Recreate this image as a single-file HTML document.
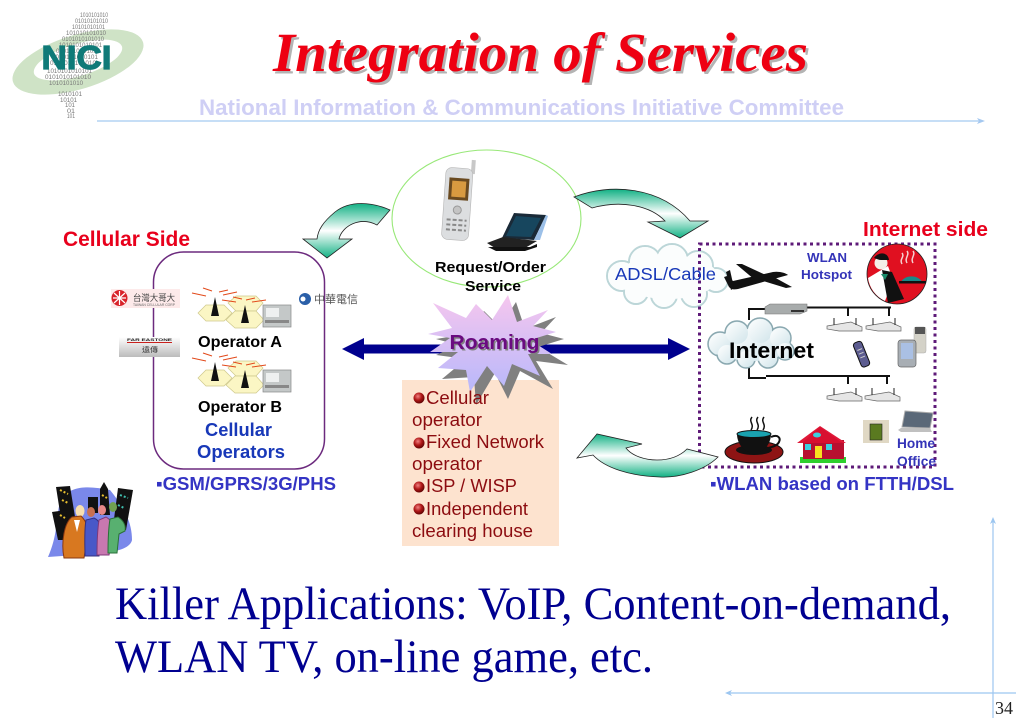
<!DOCTYPE html>
<html><head><meta charset="utf-8"><title>Integration of Services</title>
<style>html,body{margin:0;padding:0;background:#fff}svg{display:block}
.s{font-family:"Liberation Sans","Noto Sans CJK TC",sans-serif}
.b{font-family:"Liberation Sans",sans-serif;font-weight:bold}
.t{font-family:"Liberation Serif",serif}
</style></head><body>
<svg width="1024" height="726" viewBox="0 0 1024 726" xmlns="http://www.w3.org/2000/svg">
<defs>
<linearGradient id="ga" x1="0" y1="0" x2="0" y2="1"><stop offset="0" stop-color="#12b184"/><stop offset=".5" stop-color="#fff"/><stop offset="1" stop-color="#12b184"/></linearGradient>
<linearGradient id="gs" x1="0" y1="0" x2="0" y2="1"><stop offset="0" stop-color="#f6c6ee"/><stop offset="1" stop-color="#b8b8fb"/></linearGradient>
<linearGradient id="gc" x1="0" y1="0" x2="1" y2="1"><stop offset="0" stop-color="#fff"/><stop offset="1" stop-color="#d0e4ea"/></linearGradient>
<radialGradient id="gb" cx=".4" cy=".35" r=".7"><stop offset="0" stop-color="#f08080"/><stop offset=".5" stop-color="#b01818"/><stop offset="1" stop-color="#500"/></radialGradient>
<linearGradient id="gf" x1="0" y1="0" x2="0" y2="1"><stop offset="0" stop-color="#fff"/><stop offset="1" stop-color="#bbb"/></linearGradient>
<g id="cell">
 <polygon points="198,313 206,305 224,305 232,313 224,321 206,321" fill="#fbf6c4" stroke="#cfc98c" stroke-width=".7"/>
 <polygon points="228,303 236,296 256,296 263,303 256,311 236,311" fill="#fbf6c4" stroke="#cfc98c" stroke-width=".7"/>
 <polygon points="226,320 235,311 256,311 264,320 256,328 235,328" fill="#fbf6c4" stroke="#cfc98c" stroke-width=".7"/>
 <polygon points="215,297 211,316 219,316" fill="#111"/>
 <polygon points="245,305 241,323 249,323" fill="#111"/>
 <path d="M192,293l14,3M203,288l9,3M237,292l-14,3M228,290l-9,2M222,300l14,2M233,297l9,2M266,300l-14,2M255,298l-9,2" stroke="#e2491a" stroke-width="1"/>
 <rect x="263" y="305" width="28" height="22" fill="#c4c8c8" stroke="#888" stroke-width=".7"/>
 <rect x="266" y="308" width="13" height="9" fill="#eef0f0"/>
 <rect x="265" y="320" width="24" height="3" fill="#888"/>
</g>
<g id="ap">
 <polygon points="0,9 24,5 35,10 35,14 12,14 0,12" fill="#e6e6e6" stroke="#666" stroke-width=".7"/>
 <path d="M7,8V1M29,8V1" stroke="#222" stroke-width="1"/>
</g>
</defs>
<rect width="1024" height="726" fill="#fff"/>

<!-- logo -->
<g>
 <ellipse cx="78" cy="62" rx="68" ry="27" transform="rotate(-17 78 62)" fill="#cfe3c6"/>
 <ellipse cx="78" cy="60" rx="46" ry="16" transform="rotate(-17 78 60)" fill="#fff"/>
 <g class="s" font-size="6.500" fill="#777">
 <text x="80" y="17" textLength="28" lengthAdjust="spacingAndGlyphs">1010101010</text>
 <text x="75" y="23" textLength="33" lengthAdjust="spacingAndGlyphs">01010101010</text>
 <text x="72" y="29" textLength="33" lengthAdjust="spacingAndGlyphs">10101010101</text>
 <text x="66" y="35" textLength="40" lengthAdjust="spacingAndGlyphs">101010101010</text>
 <text x="62" y="41" textLength="42" lengthAdjust="spacingAndGlyphs">0101010101010</text>
 <text x="59" y="47" textLength="43" lengthAdjust="spacingAndGlyphs">1010101010101</text>
 <text x="56" y="53" textLength="44" lengthAdjust="spacingAndGlyphs">0101010101010</text>
 <text x="52" y="59" textLength="46" lengthAdjust="spacingAndGlyphs">1010101010101</text>
 <text x="50" y="65" textLength="46" lengthAdjust="spacingAndGlyphs">0101010101010</text>
 <text x="47" y="73" textLength="45" lengthAdjust="spacingAndGlyphs">1010101010101</text>
 <text x="45" y="79" textLength="46" lengthAdjust="spacingAndGlyphs">0101010101010</text>
 <text x="49" y="85" textLength="34" lengthAdjust="spacingAndGlyphs">1010101010</text>
 <text x="58" y="96" textLength="24" lengthAdjust="spacingAndGlyphs">1010101</text>
 <text x="60" y="102" textLength="17" lengthAdjust="spacingAndGlyphs">10101</text>
 <text x="65" y="107" textLength="10" lengthAdjust="spacingAndGlyphs">101</text>
 <text x="67" y="113" textLength="8" lengthAdjust="spacingAndGlyphs">01</text>
 <text x="67" y="118" textLength="8" lengthAdjust="spacingAndGlyphs">101</text>
 </g>
 <text x="41.500" y="69" class="b" font-size="33" fill="#0f7a78" textLength="70" lengthAdjust="spacingAndGlyphs" stroke="#0f7a78" stroke-width="1.200">NICI</text>
</g>

<!-- title -->
<g class="t" font-size="55" font-weight="bold" font-style="italic">
 <text x="275.500" y="73.500" fill="#b4b4b4" textLength="535" lengthAdjust="spacingAndGlyphs">Integration of Services</text>
 <text x="273" y="71" fill="#ee0012" textLength="535" lengthAdjust="spacingAndGlyphs">Integration of Services</text>
</g>
<text x="199" y="115" class="b" font-size="22" fill="#cfcff5" textLength="645" lengthAdjust="spacingAndGlyphs">National Information &amp; Communications Initiative Committee</text>

<!-- guides -->
<path d="M97 121H980" stroke="#b4d3f4" stroke-width="1.500"/>
<polygon points="985,121 977,118 979,121 977,124" fill="#a4c8f0"/>
<path d="M993 520V718" stroke="#9cc6f0" stroke-width="1.200"/>
<polygon points="993,517 990,524 993,522 996,524" fill="#9cc6f0"/>
<path d="M729 693H1016" stroke="#9cc6f0" stroke-width="1.200"/>
<polygon points="725,693 732,690 730,693 732,696" fill="#9cc6f0"/>
<text x="995" y="714" class="t" font-size="18" fill="#222">34</text>

<!-- cellular panel -->
<rect x="153.500" y="252" width="171" height="217" rx="30" fill="#fff" stroke="#6c2a7e" stroke-width="1.500"/>
<text x="63" y="246" class="b" font-size="21" fill="#e8001c" textLength="127" lengthAdjust="spacingAndGlyphs">Cellular Side</text>

<!-- TWN logo -->
<rect x="111" y="289" width="69" height="19" fill="#fdeaea"/>
<circle cx="119.500" cy="298" r="8" fill="#d8232a"/>
<path d="M119.500 291v14M113 298h13M114 293l11 10M125 293l-11 10" stroke="#fff" stroke-width="1.200"/>
<text x="133" y="301" class="s" font-size="9" fill="#444" textLength="42" lengthAdjust="spacingAndGlyphs">台灣大哥大</text>
<text x="133" y="306" class="s" font-size="3.500" fill="#666" textLength="42" lengthAdjust="spacingAndGlyphs">TAIWAN CELLULAR CORP</text>
<!-- FET -->
<rect x="119" y="337" width="61" height="20" fill="url(#gf)"/>
<text x="127" y="341" class="b" font-size="4" fill="#222" textLength="45" lengthAdjust="spacingAndGlyphs">FAR EASTONE</text>
<path d="M127 342.500H172" stroke="#c8201c" stroke-width="1"/>
<text x="142" y="352" class="s" font-size="7" fill="#333" textLength="16" lengthAdjust="spacingAndGlyphs">遠傳</text>
<!-- CHT -->
<circle cx="305" cy="299" r="6" fill="#2a5fa8"/><circle cx="303" cy="299" r="2.500" fill="#fff"/>
<text x="314" y="303" class="s" font-size="11" fill="#555" textLength="44" lengthAdjust="spacingAndGlyphs">中華電信</text>

<use href="#cell"/>
<text x="198" y="347" class="b" font-size="15.500" fill="#000" textLength="84" lengthAdjust="spacingAndGlyphs">Operator A</text>
<use href="#cell" y="65"/>
<text x="198" y="412" class="b" font-size="15.500" fill="#000" textLength="84" lengthAdjust="spacingAndGlyphs">Operator B</text>
<text x="205" y="436" class="b" font-size="18" fill="#1838b8" textLength="67" lengthAdjust="spacingAndGlyphs">Cellular</text>
<text x="197" y="458" class="b" font-size="18" fill="#1838b8" textLength="88" lengthAdjust="spacingAndGlyphs">Operators</text>
<text x="156" y="490" class="b" font-size="18.500" fill="#3434c4" textLength="180" lengthAdjust="spacingAndGlyphs">▪GSM/GPRS/3G/PHS</text>

<!-- ellipse -->
<ellipse cx="486.500" cy="218.500" rx="94.500" ry="68.500" fill="#fff" stroke="#98e878" stroke-width="1.100"/>
<!-- phone -->
<g transform="rotate(4 457 200)">
 <rect x="469" y="159" width="4" height="14" fill="#c8c8c8"/>
 <rect x="444" y="168" width="27" height="72" rx="6" fill="#dcdee0" stroke="#b4b4b4" stroke-width=".6"/>
 <rect x="448" y="178" width="20" height="22" fill="#6a4a20"/>
 <rect x="451" y="181" width="14" height="16" fill="#d89a40"/>
 <circle cx="458" cy="210" r="4" fill="#c4c4c4" stroke="#999"/>
 <path d="M448 220h20M448 225h20M448 230h20" stroke="#888" stroke-width="2" stroke-dasharray="4 2"/>
</g>
<!-- laptop -->
<polygon points="502,238 514,213 546,215 534,240" fill="#1a2a38"/>
<polygon points="506,236 516,216 541,218 531,237" fill="#17465e"/>
<polygon points="546,215 534,240 540,240 548,216" fill="#9cc0e8"/>
<polygon points="487,243 503,237 537,241 525,248 495,248" fill="#222"/>
<polygon points="488,247 530,247 537,244 537,247 525,251 496,251" fill="#111"/>
<text x="435" y="272" class="b" font-size="15" fill="#000" textLength="111" lengthAdjust="spacingAndGlyphs">Request/Order</text>
<text x="465" y="291" class="b" font-size="15" fill="#000" textLength="56" lengthAdjust="spacingAndGlyphs">Service</text>

<!-- curved arrows -->
<path d="M390 210C372 202 350 200 335 212C323 222 318 230 317 239H303L327 258L352 239H339C342 226 360 216 377 225Z" fill="url(#ga)" stroke="#222" stroke-width=".8"/>
<path d="M574 197C610 183 660 186 690 221H708L680 238L648 222L665 221C650 205 620 200 592 208Z" fill="url(#ga)" stroke="#222" stroke-width=".8"/>

<!-- ADSL cloud -->
<g>
 <g fill="#fff" stroke="#bcd6d8" stroke-width="2">
 <circle cx="622" cy="276" r="15"/><circle cx="645" cy="262" r="16"/><circle cx="672" cy="260" r="16"/><circle cx="698" cy="266" r="15"/>
 <circle cx="716" cy="280" r="12"/><circle cx="694" cy="294" r="13"/><circle cx="664" cy="295" r="13"/><circle cx="636" cy="292" r="12"/>
 </g>
 <g fill="#fbfdfd"><ellipse cx="668" cy="277" rx="50" ry="22"/><circle cx="622" cy="276" r="14"/><circle cx="645" cy="262" r="15"/><circle cx="672" cy="260" r="15"/><circle cx="698" cy="266" r="14"/>
 <circle cx="716" cy="280" r="11"/><circle cx="694" cy="294" r="12"/><circle cx="664" cy="295" r="12"/><circle cx="636" cy="292" r="11"/></g>
</g>

<!-- dotted box -->
<rect x="699.500" y="244" width="235.500" height="223" fill="none" stroke="#5e1a78" stroke-width="3" stroke-dasharray="3 3.500"/>
<text x="863" y="236" class="b" font-size="20.500" fill="#e8001c" textLength="125" lengthAdjust="spacingAndGlyphs">Internet side</text>
<text x="615" y="280" class="s" font-size="17.500" fill="#1838b8" textLength="101" lengthAdjust="spacingAndGlyphs">ADSL/Cable</text>

<!-- plane -->
<g fill="#111">
 <path d="M724 277l3-1 6 5 40-9c6-1 13 1 15 3l-50 14c-5 1-7 0-9-2z"/>
 <polygon points="736,264 742,264 768,276 755,280"/>
 <polygon points="760,280 772,276 792,287 786,288"/>
 <polygon points="726,272 730,270 734,288 731,290"/>
</g>
<text x="807" y="262" class="b" font-size="13" fill="#3434b8" textLength="40" lengthAdjust="spacingAndGlyphs">WLAN</text>
<text x="801" y="279" class="b" font-size="13" fill="#3434b8" textLength="51" lengthAdjust="spacingAndGlyphs">Hotspot</text>

<!-- waiter -->
<circle cx="897" cy="274" r="30" fill="#e01020" stroke="#222" stroke-width=".8"/>
<path d="M868 278A30 30 0 0 0 885 301L893 280L888 266Z" fill="#fff"/>
<circle cx="881" cy="263" r="6.500" fill="#f4f0e8"/>
<path d="M874 258c5-7 14-6 15 2l-8 0c-2 0-4-1-7-2z" fill="#111"/>
<polygon points="882,270 892,272 904,299 888,303" fill="#111"/>
<polygon points="881,274 888,274 885,280" fill="#1a8a6a"/>
<path d="M907 251c3 4-3 7 0 12M913 251c3 4-3 7 0 12M902 253c3 4-3 6 0 11" stroke="#f4d0d0" stroke-width="1.500" fill="none"/>
<path d="M901 282a11 8 0 0 1 21 0z" fill="#1a8a8a"/>
<rect x="899" y="281" width="27" height="2.500" fill="#111"/>

<!-- network lines -->
<g fill="none" stroke="#111" stroke-width="2">
 <path d="M749 320V309H765M807 307.500H891M848 307V316M889 307V316"/>
 <path d="M749 365V378H766M766 376H890M848 376V384M887 376V384"/>
</g>
<polygon points="765,307 770,304 807,304 807,311 800,314 765,314" fill="#a8acac" stroke="#777" stroke-width=".6"/>
<rect x="791" y="310" width="13" height="2" fill="#333"/>
<use href="#ap" x="827" y="317"/>
<use href="#ap" x="866" y="317"/>
<use href="#ap" x="827" y="387"/>
<use href="#ap" x="865" y="387"/>

<!-- internet cloud -->
<g>
 <g fill="#d8e8ec" stroke="#8aa8b0" stroke-width="1.500">
 <circle cx="720" cy="344" r="12"/><circle cx="737" cy="333" r="12"/><circle cx="760" cy="331" r="13"/><circle cx="780" cy="338" r="11"/>
 <circle cx="785" cy="351" r="9"/><circle cx="768" cy="358" r="10"/><circle cx="746" cy="359" r="9"/><circle cx="727" cy="354" r="10"/>
 </g>
 <g fill="url(#gc)"><ellipse cx="752" cy="345" rx="38" ry="16"/><circle cx="720" cy="344" r="11"/><circle cx="737" cy="333" r="11"/><circle cx="760" cy="331" r="12"/><circle cx="780" cy="338" r="10"/>
 <circle cx="785" cy="351" r="8"/><circle cx="768" cy="358" r="9"/><circle cx="746" cy="359" r="8"/><circle cx="727" cy="354" r="9"/></g>
</g>
<text x="729" y="358" class="b" font-size="22" fill="#000" textLength="85" lengthAdjust="spacingAndGlyphs">Internet</text>

<!-- devices -->
<g transform="rotate(-22 862 354)">
 <rect x="857" y="341" width="9" height="26" rx="3" fill="#5c5c90" stroke="#111"/>
 <path d="M859 349h5M859 353h5M859 357h5" stroke="#ccc" stroke-width="1"/>
</g>
<rect x="914" y="327" width="12" height="26" rx="2" fill="#d4d2c8" stroke="#aaa" stroke-width=".5"/>
<rect x="915" y="327" width="10" height="7" fill="#555"/>
<rect x="898" y="340" width="18" height="27" rx="3" fill="#a8aeb4" stroke="#666" stroke-width=".7"/>
<rect x="901" y="343" width="12" height="16" fill="#aac0e4"/>

<!-- cup -->
<ellipse cx="754" cy="452" rx="29" ry="11" fill="#8e1414" stroke="#111"/>
<ellipse cx="754" cy="450" rx="18" ry="5" fill="#111"/>
<path d="M737 434h34c0 8-5 16-12 18h-10c-7-2-12-10-12-18z" fill="#111"/>
<ellipse cx="754" cy="434" rx="17" ry="3.500" fill="#1aa2b0" stroke="#111"/>
<path d="M771 437c7-3 10 1 8 5-2 4-7 5-11 6" fill="none" stroke="#111" stroke-width="2"/>
<path d="M752 417c-4 5 3 7-1 13M758 417c-4 5 3 7-1 13M764 417c-4 5 3 7-1 13" fill="none" stroke="#111" stroke-width="1.500"/>

<!-- house -->
<rect x="800" y="457" width="46" height="6" fill="#2ed02e"/>
<rect x="803" y="440" width="41" height="19" fill="#b81030"/>
<polygon points="797,443 820,426 846,443 843,443 820,432 802,443" fill="#e01838"/>
<polygon points="802,443 820,427 842,443" fill="#d81030"/>
<ellipse cx="817" cy="435" rx="4" ry="2.500" fill="#3cd0e0"/>
<rect x="805" y="444" width="6" height="6" fill="#3cd0e0"/><rect x="826" y="444" width="6" height="6" fill="#3cd0e0"/>
<rect x="815" y="446" width="7" height="12" fill="#f8e020"/>

<rect x="863" y="420" width="26" height="23" fill="#e0d8c4"/>
<rect x="870" y="424" width="12" height="16" fill="#5a7a20" stroke="#222" stroke-width=".6"/>
<polygon points="905,411 933,413 930,428 902,427" fill="#5a6878" stroke="#aaa"/>
<polygon points="901,428 930,428 932,432 901,432 898,430" fill="#c0c0c0"/>
<text x="897" y="448" class="b" font-size="13.500" fill="#3434b8" textLength="38" lengthAdjust="spacingAndGlyphs">Home</text>
<text x="897" y="466" class="b" font-size="13.500" fill="#3434b8" textLength="39" lengthAdjust="spacingAndGlyphs">Office</text>
<text x="710" y="490" class="b" font-size="18.500" fill="#3434c4" textLength="244" lengthAdjust="spacingAndGlyphs">▪WLAN based on FTTH/DSL</text>

<!-- peach panel -->
<rect x="402" y="380" width="157" height="166" fill="#fde3cf"/>

<!-- blue double arrow -->
<rect x="360" y="344.500" width="310" height="9" fill="#00008e"/>
<polygon points="342,349 364,338 364,360" fill="#00008e"/>
<polygon points="690,349 668,338 668,360" fill="#00008e"/>

<!-- star -->
<polygon transform="translate(8,7)" points="433,300 466,318 476,304 492,320 508,295 517,322 548,310 533,326 556,332 530,340 560,358 528,354 545,382 512,364 500,392 487,366 468,398 466,370 434,372 458,352 428,348 450,338 428,332 452,328" fill="#808080"/>
<polygon points="433,303 466,318 476,304 492,320 508,295 517,322 548,310 533,326 556,332 530,340 552,354 528,354 540,376 512,364 504,386 487,366 470,392 466,370 438,368 458,352 430,352 450,338 428,334 452,328" fill="url(#gs)"/>
<text x="451" y="350.500" class="b" font-size="20" fill="#808080" textLength="90" lengthAdjust="spacingAndGlyphs">Roaming</text>
<text x="449.500" y="349" class="b" font-size="20" fill="#6a0a80" textLength="90" lengthAdjust="spacingAndGlyphs">Roaming</text>

<!-- peach text -->
<g class="s" font-size="18" fill="#8c0c10">
 <circle cx="419" cy="398" r="5.500" fill="url(#gb)"/><text x="426" y="404" textLength="63" lengthAdjust="spacingAndGlyphs">Cellular</text>
 <text x="412" y="426" textLength="70" lengthAdjust="spacingAndGlyphs">operator</text>
 <circle cx="419" cy="443" r="5.500" fill="url(#gb)"/><text x="426" y="448" textLength="118" lengthAdjust="spacingAndGlyphs">Fixed Network</text>
 <text x="412" y="470" textLength="70" lengthAdjust="spacingAndGlyphs">operator</text>
 <circle cx="419" cy="487" r="5.500" fill="url(#gb)"/><text x="426" y="492" textLength="91" lengthAdjust="spacingAndGlyphs">ISP / WISP</text>
 <circle cx="419" cy="509" r="5.500" fill="url(#gb)"/><text x="426" y="515" textLength="102" lengthAdjust="spacingAndGlyphs">Independent</text>
 <text x="412" y="537" textLength="121" lengthAdjust="spacingAndGlyphs">clearing house</text>
</g>

<!-- bottom arrow -->
<path d="M718 457C705 470 680 478 660 477C630 476 605 468 593 455L577 458L597 434L642 444L626 448C632 456 645 460 657 460C670 460 680 456 687 449Z" fill="url(#ga)" stroke="#222" stroke-width=".8"/>

<!-- people -->
<g>
 <path d="M48 557C60 530 55 510 62 498C72 485 90 486 110 490C122 505 132 520 132 540C130 550 110 553 90 554Z" fill="#7a88ea"/>
 <polygon points="56,487 70,486 76,523 62,525" fill="#111"/><polygon points="52,512 66,510 70,540 58,540" fill="#111"/>
 <rect x="88" y="497" width="10" height="16" fill="#111"/>
 <polygon points="100,489 104,482 108,489 110,515 100,515" fill="#111"/>
 <polygon points="118,488 133,490 126,530 113,527" fill="#111"/>
 <path d="M60 490l8 4M62 500l6 3M60 515l5 3M102 495l5 3" stroke="#e8c030" stroke-width="2" stroke-dasharray="2 2"/>
 <path d="M120 495l8 3M118 505l6 3" stroke="#40c0b0" stroke-width="2" stroke-dasharray="2 2"/>
 <ellipse cx="80" cy="511" rx="4.500" ry="6" fill="#f8e0b0"/>
 <path d="M64 558c-3-15 0-35 8-41l9-1c6 6 8 12 6 24l-3 18z" fill="#d87820" stroke="#8a3810"/>
 <polygon points="74,520 77,532 80,520" fill="#fff"/>
 <ellipse cx="91" cy="512" rx="4" ry="5" fill="#c87050"/>
 <path d="M85 556c0-10-1-25 1-36l8-2c5 2 8 8 7 14l-2 24z" fill="#4858c8" stroke="#333080"/>
 <ellipse cx="102" cy="510" rx="4" ry="5" fill="#e88888"/>
 <path d="M97 555c0-10 0-22 2-35l7-3c5 3 8 8 8 14l-5 24z" fill="#c878b0" stroke="#803878"/>
 <ellipse cx="113" cy="507" rx="4" ry="5" fill="#70a050"/>
 <path d="M108 553c0-10 0-22 2-34l8-2c6 4 8 9 7 14l-6 3-2 19z" fill="#58b070" stroke="#2a7038"/>
</g>

<!-- killer apps -->
<g class="t" font-size="47" fill="#000090">
 <text x="115" y="619" textLength="836" lengthAdjust="spacingAndGlyphs">Killer Applications: VoIP, Content-on-demand,</text>
 <text x="115" y="672" textLength="538" lengthAdjust="spacingAndGlyphs">WLAN TV, on-line game, etc.</text>
</g>
</svg>
</body></html>
